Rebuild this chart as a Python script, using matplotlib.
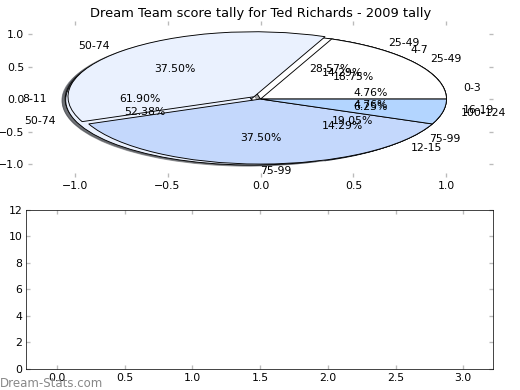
import matplotlib
matplotlib.use("Agg")
import matplotlib.pyplot as plt

plt.rcParams['font.family'] = ['DejaVu Sans']
plt.rcParams['font.size'] = 12

title = "Dream Team score tally for Ted Richards - 2009 tally"

# three tallies drawn on top of each other
labels_c = ["0-3", "4-7", "8-11", "12-15", "16-19"]
counts_c = [1, 3, 13, 3, 1]
labels_b = ["25-49", "50-74", "75-99"]
counts_b = [6, 11, 4]
labels_a = ["25-49", "50-74", "75-99", "100-124"]
counts_a = [3, 6, 6, 1]

bar_xticks = [0.0, 0.5, 1.0, 1.5, 2.0, 2.5, 3.0]
bar_yticks = [0, 2, 4, 6, 8, 10, 12]

palette = ['#ffffff', '#eaf1fe', '#c4d8fc', '#b3d5ff', '#d6e6ff']

fig = plt.figure(figsize=(8, 6), dpi=65)
ax1 = fig.add_axes([0.054, 0.546, 0.894, 0.400])
ax2 = fig.add_axes([0.050, 0.054, 0.898, 0.408])


def explode_for(vals):
    big = vals.index(max(vals))
    return [0.05 if i == big else 0 for i in range(len(vals))]


for labs, vals in [(labels_c, counts_c), (labels_b, counts_b), (labels_a, counts_a)]:
    ax1.pie(vals, labels=labs, autopct='%.2f%%', shadow=True,
            explode=explode_for(vals), colors=palette[:len(vals)],
            wedgeprops=dict(edgecolor='black', linewidth=1))

ax1.set_aspect('auto')
ax1.set_frame_on(False)
ax1.set_xlim(-1.25, 1.25)
ax1.set_ylim(-1.2, 1.2)
ax1.set_xticks([-1.0, -0.5, 0.0, 0.5, 1.0])
ax1.set_yticks([-1.0, -0.5, 0.0, 0.5, 1.0])
ax1.set_title(title, fontsize=14.4, pad=5)

ax2.set_xlim(-0.23, 3.22)
ax2.set_ylim(0, 12)
ax2.set_xticks(bar_xticks)
ax2.set_yticks(bar_yticks)

for ax in (ax1, ax2):
    ax.tick_params(direction='in', length=4, color='#bbbbbb', width=1.5,
                   top=True, right=True, labelsize=12, pad=4)

fig.text(0.0, 0.008, "Dream-Stats.com", color='#888888', fontsize=13)

fig.savefig("out.png", dpi=65)
